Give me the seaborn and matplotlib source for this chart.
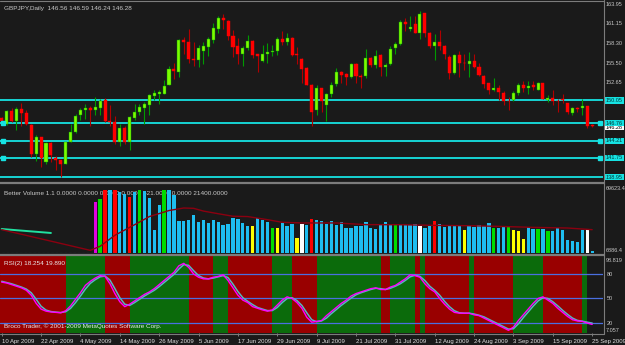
import numpy as np
import matplotlib
matplotlib.use("Agg")
import matplotlib.pyplot as plt
import matplotlib.transforms as mtrans
from matplotlib.lines import Line2D
import seaborn as sns

# --- DATA (GBPJPY daily) ---
opens = [147.5, 146.7, 148.5, 147.0, 148.8, 148.2, 146.5, 142.3, 144.7, 141.1,
         143.9, 141.8, 141.4, 140.9, 144.1, 145.5, 147.9, 148.6, 148.9, 148.7,
         149.0, 150.1, 147.1, 146.9, 144.1, 146.0, 144.1, 147.5, 148.3, 149.0,
         149.4, 150.7, 151.0, 151.0, 152.3, 154.6, 154.1, 158.7, 158.4, 156.0,
         155.9, 157.1, 157.8, 158.7, 160.4, 161.9, 161.5, 159.4, 157.9, 156.7,
         157.6, 158.6, 156.7, 155.7, 156.8, 157.0, 157.1, 158.9, 158.4, 159.1,
         156.8, 156.0, 154.7, 152.3, 148.7, 151.8, 149.4, 150.9, 152.4, 154.2,
         153.8, 153.4, 155.3, 153.6, 153.5, 156.2, 155.1, 156.6, 154.8, 155.3,
         157.6, 158.2, 161.3, 160.4, 161.1, 159.8, 162.6, 159.8, 157.9, 158.4,
         157.9, 156.3, 154.0, 156.6, 155.5, 155.3, 155.7, 154.9, 153.6, 152.5,
         151.6, 151.8, 151.1, 150.0, 150.1, 151.1, 152.2, 151.8, 152.2, 151.6,
         152.5, 150.1, 150.4, 150.0, 150.3, 149.6, 148.2, 149.0, 148.9, 149.2,
         146.56]
highs = [147.6, 148.6, 149.0, 149.1, 149.7, 148.7, 146.6, 145.1, 144.8, 144.0,
         144.1, 142.0, 141.5, 144.1, 146.7, 148.1, 149.0, 149.5, 149.3, 150.6,
         150.3, 150.4, 149.4, 147.8, 146.6, 146.3, 147.8, 149.5, 149.5, 149.8,
         151.0, 151.6, 151.5, 153.0, 155.0, 155.5, 158.9, 159.2, 160.3, 158.4,
         158.0, 158.4, 159.2, 161.2, 162.2, 162.5, 161.6, 160.2, 159.1, 157.9,
         159.5, 158.8, 156.8, 158.1, 158.3, 158.0, 159.2, 160.1, 159.8, 159.2,
         157.8, 156.2, 154.8, 152.4, 152.3, 151.9, 151.1, 152.7, 154.7, 154.3,
         154.0, 155.5, 155.4, 153.8, 157.5, 156.3, 157.3, 156.7, 155.4, 157.9,
         158.4, 161.6, 162.0, 162.2, 162.2, 163.0, 162.7, 159.9, 159.6, 160.2,
         158.0, 156.6, 156.7, 157.2, 156.8, 157.0, 156.7, 155.4, 153.7, 152.6,
         153.3, 152.2, 151.4, 150.5, 151.4, 152.5, 152.9, 152.8, 152.8, 152.7,
         152.5, 150.8, 151.5, 150.3, 151.0, 149.7, 149.1, 149.1, 150.3, 149.3,
         146.59]
lows = [146.9, 146.5, 146.9, 145.8, 146.3, 146.5, 141.9, 141.3, 140.5, 140.9,
        141.2, 140.0, 139.0, 140.8, 144.0, 145.3, 147.2, 147.3, 146.4, 147.9,
        147.9, 146.9, 146.3, 143.8, 143.5, 143.8, 142.9, 147.2, 147.9, 146.6,
        147.9, 150.1, 149.5, 150.9, 152.2, 153.1, 153.4, 156.8, 155.5, 155.0,
        154.8, 155.3, 156.5, 158.3, 159.8, 160.4, 158.8, 156.3, 155.3, 155.0,
        157.3, 156.2, 154.1, 155.6, 155.5, 156.5, 156.6, 158.1, 158.0, 156.5,
        155.3, 152.6, 152.2, 146.4, 147.9, 148.3, 147.0, 150.6, 152.1, 152.5,
        152.3, 153.3, 152.6, 151.8, 153.3, 154.8, 154.7, 153.6, 153.5, 155.2,
        156.8, 158.0, 160.0, 160.1, 159.7, 158.9, 159.2, 157.6, 155.8, 157.3,
        156.0, 153.2, 153.9, 153.4, 154.4, 153.4, 154.7, 153.6, 151.8, 151.0,
        151.4, 150.1, 149.4, 148.6, 149.9, 150.8, 151.2, 151.0, 151.5, 151.5,
        150.2, 149.8, 149.4, 148.4, 149.6, 148.1, 147.9, 148.4, 147.9, 146.1,
        146.24]
closes = [147.0, 148.5, 147.0, 148.8, 148.2, 146.7, 142.3, 144.8, 141.8, 143.9,
          142.2, 141.4, 140.9, 144.0, 145.5, 147.8, 148.7, 148.9, 148.7, 149.1,
          149.9, 147.0, 146.9, 144.1, 146.0, 144.1, 147.6, 148.4, 149.1, 149.5,
          150.8, 151.1, 151.3, 152.1, 154.6, 154.3, 158.7, 158.4, 156.0, 155.8,
          157.6, 157.9, 158.9, 160.5, 161.9, 161.6, 159.4, 157.8, 156.7, 157.6,
          158.6, 156.6, 156.5, 156.8, 157.0, 157.2, 158.9, 158.5, 159.1, 156.6,
          156.6, 154.6, 152.3, 148.4, 151.8, 150.0, 150.9, 152.3, 154.2, 153.7,
          153.4, 155.3, 153.5, 153.4, 156.2, 155.1, 156.5, 154.8, 155.2, 157.5,
          158.2, 161.3, 161.1, 160.7, 159.8, 162.5, 159.8, 157.9, 158.4, 157.9,
          156.8, 154.0, 156.6, 155.4, 155.4, 155.7, 154.9, 153.7, 152.4, 151.6,
          151.8, 151.2, 150.0, 149.9, 151.1, 152.2, 151.9, 152.1, 152.0, 152.5,
          150.3, 150.4, 149.9, 149.9, 150.1, 148.3, 149.0, 148.8, 149.3, 146.4,
          146.28]

levels = [150.05, 146.76, 144.21, 141.75, 138.95]
marked_levels = [146.76, 144.21, 141.75]
price_ticks = [163.95, 161.15, 158.30, 155.50, 152.65]
last_price = 146.28

volumes = [0, 0, 0, 0, 0, 0, 0, 0, 0, 0,
           0, 0, 0, 0, 0, 0, 0, 0, 0, 52950,
           55980, 64000, 64470, 63860, 62050, 60830, 57800, 62050, 64470, 63000,
           56890, 28100, 50830, 63860, 63860, 59920, 35680, 35680, 36590, 41740,
           34770, 36590, 34160, 37190, 34770, 32650, 33550, 38710, 38100, 34160,
           31130, 31130, 38710, 36590, 34770, 29620, 29620, 34160, 31130, 33550,
           20520, 33000, 32650, 37800, 36590, 35680, 33550, 35680, 32650, 34770,
           29620, 29620, 31740, 31740, 34770, 29620, 28710, 32650, 34770, 32650,
           32650, 32650, 32650, 32650, 33550, 31130, 29620, 31740, 35680, 33550,
           30520, 32650, 31740, 31740, 28100, 31740, 30520, 32650, 31740, 34160,
           29620, 29620, 31740, 31130, 28100, 26590, 19610, 30220, 28710, 28710,
           28710, 26590, 26590, 29620, 28100, 18400, 17500, 16590, 27500, 28710,
           8400]
# bar colour codes: c=cyan, r=red, g=green, y=yellow, w=white, m=magenta
vol_codes = ("ccccccccccccccccccc"           # 0-18 (no volume)
             + "mgrcrccrcg"                  # 19-28
             + "ccccg"                       # 29-33
             + "ccccccccccccccccc"           # 34-50
             + "ycccgycccywcr"               # 51-63
             + "cccccccccccccccc"            # 64-79
             + "gccccwccr"                   # 80-88
             + "cccccycccccgccgyyyccgcgcccccccwc")  # 89-120
vol_ma_bars = [0, 18, 20, 23, 27, 30, 34, 37, 39, 41, 44, 47, 50, 54, 57, 61,
               68, 74, 81, 88, 95, 101, 108, 115, 120]
vol_ma_vals = [28100, 9300, 13000, 23000, 32600, 40000, 45500, 47800, 47500,
               45000, 42600, 40300, 40000, 37200, 34800, 34200, 34200, 32700,
               32600, 32000, 31700, 31100, 30200, 29600, 28100]
vol_sig_bars = [0, 10]
vol_sig_vals = [28700, 25100]

rsi_main = [70, 69, 67, 65, 63, 60, 54, 44, 37, 34.5,
            33.5, 33, 32.5, 35, 41, 49, 57, 66, 71, 75,
            78, 77, 68, 56, 46, 40, 43, 47, 51, 55,
            58, 62, 67, 72, 77, 82, 90, 93, 88, 80,
            76, 74, 74, 76, 77, 79, 72, 63, 54, 48,
            45, 40, 38, 36, 34.5, 36, 42, 48, 52, 50,
            45, 38, 27, 21, 22, 23, 29, 34, 39, 44,
            48, 53, 56, 58, 60, 62, 63, 61, 61, 64,
            66, 70, 74, 79, 78, 76, 68, 62, 58, 50,
            43, 37, 33, 32, 32, 32, 30, 29, 26, 23,
            20, 17, 14, 11, 15, 23, 30, 37, 44, 50,
            52, 48, 44, 38, 33, 28, 24, 22.5, 22, 20,
            18.254]
rsi_signal = [71, 69.5, 68, 66, 64, 61.5, 57, 49, 40.5, 35.8,
              34, 33.3, 32.8, 33.8, 38, 45, 53, 61.5, 68.5, 73,
              76.5, 77.5, 72.5, 62, 51, 43, 41.5, 45, 49, 53,
              56.5, 60, 64.5, 69.5, 74.5, 79.5, 86, 91.5, 90.5, 84,
              78, 75, 74, 75, 76.5, 78, 75.5, 67.5, 58.5, 51,
              46.5, 42.5, 39, 37, 35.2, 35.2, 39, 45, 50, 51,
              47.5, 41.5, 32.5, 24, 21.5, 22.5, 26, 31.5, 36.5, 41.5,
              46, 50.5, 54.5, 57, 59, 61, 62.5, 62, 61, 62.5,
              65, 68, 72, 76.5, 78.5, 77, 72, 65, 60, 54,
              46.5, 40, 35, 32.5, 32, 32, 31, 29.5, 27.5, 24.5,
              21.5, 18.5, 15.5, 12.5, 13, 19, 26.5, 33.5, 40.5, 47,
              51, 50, 46, 41, 35.5, 30.5, 26, 23.2, 22.2, 21,
              19.89]
rsi_levels = [80, 50, 20]
zone_edges = [-1, 13, 21, 26, 38, 43, 46, 55, 59, 64, 77, 79, 84, 85, 86, 95,
              96, 104, 110, 118, 119]
zone_codes = "RGRGRGRGRGRGRGRGRGRG"

date_bars = [0, 8, 16, 24, 32, 40, 48, 56, 64, 72, 80, 88, 96, 104, 112, 120]
date_labels = ["10 Apr 2009", "22 Apr 2009", "4 May 2009", "14 May 2009",
               "26 May 2009", "5 Jun 2009", "17 Jun 2009", "29 Jun 2009",
               "9 Jul 2009", "21 Jul 2009", "31 Jul 2009", "12 Aug 2009",
               "24 Aug 2009", "3 Sep 2009", "15 Sep 2009", "25 Sep 2009"]

# --- STYLE ---
BG = "#1a1a1a"
TXT = "#c8c8c8"
CYAN = "#16e2e2"
sns.set_style("dark", {"axes.facecolor": BG, "figure.facecolor": BG})
plt.rcParams["font.family"] = ["Liberation Sans", "DejaVu Sans"]
FS = 4.6     # panel titles
FS_AX = 4.0  # right-hand price scale
FS_DT = 4.3  # dates

W, H = 625, 345
def px_box(x0, y0, x1, y1):
    return [x0 / W, 1 - y1 / H, (x1 - x0) / W, (y1 - y0) / H]

fig = plt.figure(figsize=(6.25, 3.45), dpi=100)
ax_p = fig.add_axes(px_box(0, 2, 603, 181))
ax_v = fig.add_axes(px_box(0, 184, 603, 253))
ax_r = fig.add_axes(px_box(0, 256, 603, 333))

x = np.arange(len(opens))
o, h, l, c = map(np.array, (opens, highs, lows, closes))
up = c >= o
XMIN, XMAX = -0.35, 122.2

for ax in (ax_p, ax_v, ax_r):
    ax.set_facecolor(BG)
    ax.set_xlim(XMIN, XMAX)
    ax.grid(False)
    for s in ax.spines.values():
        s.set_visible(False)

# --- price panel ---
ax_p.set_ylim(138.41, 164.24)
for lv in levels:
    ax_p.axhline(lv, color=CYAN, lw=1.3, zorder=1)
ax_p.vlines(x[up], l[up], h[up], color="#009a00", lw=0.8, zorder=2)
ax_p.vlines(x[~up], l[~up], h[~up], color="#b00000", lw=0.8, zorder=2)
ax_p.bar(x[up], c[up] - o[up], bottom=o[up], width=0.62, color="#7cfc00",
         edgecolor="#009a00", linewidth=0.3, zorder=3)
ax_p.bar(x[~up], o[~up] - c[~up], bottom=c[~up], width=0.62, color="#ff0000",
         edgecolor="#ff0000", linewidth=0.3, zorder=3)
for lv in marked_levels:
    ax_p.plot([0.3, 121.6], [lv, lv], "s", color=CYAN, ms=2.6, zorder=4)

ax_p.yaxis.tick_right()
ax_p.set_yticks(price_ticks)
ax_p.set_yticklabels([f"{v:.2f}" for v in price_ticks])
ax_p.tick_params(axis="y", length=0, pad=2, labelsize=FS_AX, labelcolor=TXT)
ax_p.tick_params(axis="x", bottom=False, labelbottom=False)
tr = mtrans.blended_transform_factory(ax_p.transAxes, ax_p.transData)
ax_p.text(1.005, last_price - 0.12, f"{last_price:.2f}", transform=tr, fontsize=FS_AX,
          color="#000000", va="center", ha="left", clip_on=False, zorder=5,
          bbox=dict(boxstyle="square,pad=0.12", fc="#ffffff", ec="none"))
for lv in levels:
    ax_p.text(1.005, lv, f"{lv:.2f}", transform=tr, fontsize=FS_AX, color="#003838",
              va="center", ha="left", clip_on=False, zorder=6,
              bbox=dict(boxstyle="square,pad=0.12", fc=CYAN, ec="none"))
ax_p.text(0.007, 0.975, "GBPJPY,Daily  146.56 146.59 146.24 146.28",
          transform=ax_p.transAxes, fontsize=FS, color=TXT, va="top", ha="left")

# --- volume panel ---
pal = {"c": "#1ebef0", "r": "#ff0000", "g": "#00dc00", "y": "#ffff00",
       "w": "#ffffff", "m": "#e000e0"}
ax_v.set_ylim(6886.4, 69623.4)
ax_v.text(0.006, 0.86, "Better Volume 1.1 0.0000 0.0000 0.0000 0.0000 521.0000 0.0000 21400.0000",
          transform=ax_v.transAxes, fontsize=FS, color=TXT, va="center", ha="left", zorder=1)
ax_v.bar(x, volumes, width=0.68, color=[pal[k] for k in vol_codes],
         edgecolor="none", linewidth=0, zorder=2)
ax_v.plot([0, 18.5], [7300, 7300], color="#1f7070", lw=0.8, ls=(0, (2, 2)), zorder=3)
sns.lineplot(x=vol_sig_bars, y=vol_sig_vals, ax=ax_v, color="#20e0a0", lw=1.4, zorder=3)
sns.lineplot(x=vol_ma_bars, y=vol_ma_vals, ax=ax_v, color="#8b0010", lw=1.0, zorder=4)
ax_v.set_xlabel("")
ax_v.set_ylabel("")
ax_v.set_xticks([])
ax_v.set_yticks([])

# --- RSI panel ---
zone_pal = {"R": "#990000", "G": "#0b6b0b"}
ax_r.set_ylim(7.76, 102.0)
for a, b, k in zip(zone_edges[:-1], zone_edges[1:], zone_codes):
    ax_r.axvspan(a, b, color=zone_pal[k], lw=0, zorder=0)
for lv in rsi_levels:
    ax_r.axhline(lv, color="#4a6fe0", lw=0.9, zorder=1)
sns.lineplot(x=x, y=rsi_signal, ax=ax_r, color="#58b4c0", lw=1.1, zorder=2)
sns.lineplot(x=x, y=rsi_main, ax=ax_r, color="#ff00ff", lw=1.0, zorder=3)
ax_r.set_xlabel("")
ax_r.set_ylabel("")
ax_r.yaxis.tick_right()
ax_r.set_yticks(rsi_levels)
ax_r.set_yticklabels([str(v) for v in rsi_levels])
ax_r.tick_params(axis="y", length=0, pad=3, labelsize=FS_AX, labelcolor=TXT)
ax_r.set_xticks(date_bars)
ax_r.set_xticklabels(date_labels)
ax_r.tick_params(axis="x", length=2.5, width=0.6, color="#909090", pad=1.5,
                 labelsize=FS_DT, labelcolor="#e0e0e0", bottom=True)
plt.setp(ax_r.get_xticklabels(), ha="left")
ax_r.text(0.007, 0.93, "RSI(2) 18.254 19.890", transform=ax_r.transAxes,
          fontsize=FS, color="#e8e8e8", va="top", ha="left")
ax_r.text(0.007, 0.05, "Broco Trader, \u00a9 2001-2009 MetaQuotes Software Corp.",
          transform=ax_r.transAxes, fontsize=FS, color="#e8e8e8", va="bottom", ha="left")

# right-hand extreme labels of the sub windows
for txt, ypx in [("69623.4", 188), ("6886.4", 251), ("98.819", 260), ("7.057", 330)]:
    fig.text(606 / W, 1 - ypx / H, txt, fontsize=FS_AX, color=TXT, va="center", ha="left")

# window separators and frame
gray = "#7c7c7c"
for ypx, lw in [(1, 0.8), (182.5, 1.6), (254.5, 1.6), (333.5, 0.8)]:
    fig.add_artist(Line2D([0, 603.5 / W], [1 - ypx / H] * 2, color=gray, lw=lw))
fig.add_artist(Line2D([603.5 / W] * 2, [1 - 333.5 / H, 1], color=gray, lw=0.8))

fig.savefig("out.png", dpi=100, facecolor=fig.get_facecolor())
